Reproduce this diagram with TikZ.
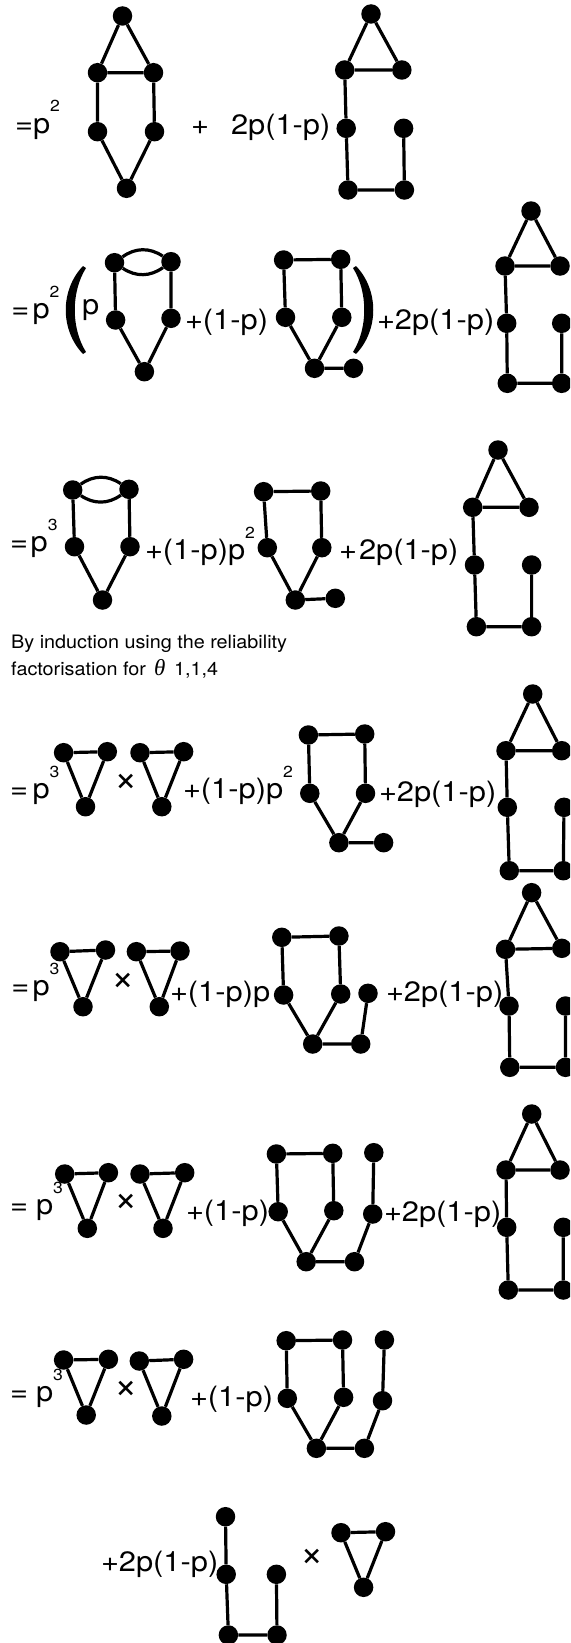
\documentclass[tikz,border=0pt]{standalone}
\usepackage{fontspec}
\setmainfont{TeX Gyre Heros}
\newfontfamily\thetafont{Liberation Serif}
\newcommand\bigtxt[1]{\scalebox{1.1}[1]{\fontsize{28}{28}\selectfont #1}}
\newcommand\supnum[1]{\raisebox{21pt}{\fontsize{16}{16}\selectfont #1}}
\tikzset{
  vtx/.style={circle,fill=black,inner sep=0pt,minimum size=19.5pt},
  edg/.style={line width=3.2pt},
  lbl/.style={anchor=base west,inner sep=0pt,outer sep=0pt},
  timesig/.style={anchor=center,inner sep=0pt,font=\fontsize{40}{40}\selectfont},
  smalltxt/.style={anchor=base west,inner sep=0pt,font=\fontsize{18.5}{18.5}\selectfont}
}
\begin{document}
\begin{tikzpicture}[x=1pt,y=-1pt]
\clip (0,0) rectangle (570,1643);
\fill[white] (0,0) rectangle (570,1643);

% ---------------- Row 1
\node[lbl] (r1eq) at (15,133) {\bigtxt{=}};
\node[lbl] (r1p) at (33,133) {\bigtxt{p\supnum{2}}};
\node[lbl] (r1plus) at (191,135) {\bigtxt{+}};
\node[lbl] (r1c) at (231,135) {\bigtxt{2p(1-p)}};
\node[vtx] (a1) at (122.5,16) {};
\node[vtx] (a2) at (97.5,72.7) {};
\node[vtx] (a3) at (153.5,72.7) {};
\node[vtx] (a4) at (97.5,131.7) {};
\node[vtx] (a5) at (154.5,131.7) {};
\node[vtx] (a6) at (126.5,188.3) {};
\draw[edg] (a1)--(a2) (a1)--(a3) (a2)--(a3) (a2)--(a4) (a3)--(a5) (a4)--(a6) (a5)--(a6);
\node[vtx] (b1) at (371,14) {};
\node[vtx] (b2) at (344.7,70) {};
\node[vtx] (b3) at (401.8,70) {};
\node[vtx] (b4) at (346.2,128.3) {};
\node[vtx] (b5) at (403.6,128.3) {};
\node[vtx] (b6) at (348,190) {};
\node[vtx] (b7) at (404.4,190) {};
\draw[edg] (b1)--(b2) (b1)--(b3) (b2)--(b3) (b2)--(b4) (b4)--(b6) (b6)--(b7) (b7)--(b5);

% ---------------- Row 2
\node[lbl] (r2eq) at (11.5,318) {\bigtxt{=}};
\node[lbl] (r2p) at (32.5,318) {\bigtxt{p\supnum{2}}};
\fill (83,266) .. controls (60,290) and (60,330) .. (83,354) -- (86,352) .. controls (71,328) and (71,292) .. (86,268) -- cycle;
\node[lbl] (r2pp) at (82,314) {\bigtxt{p}};
\node[vtx] (c1) at (114.5,262.7) {};
\node[vtx] (c2) at (171,261.7) {};
\node[vtx] (c3) at (115.6,320) {};
\node[vtx] (c4) at (171,318.3) {};
\node[vtx] (c5) at (144.4,371.7) {};
\draw[edg] (c1) to[bend left=35] (c2);
\draw[edg] (c1) to[bend right=35] (c2);
\draw[edg] (c1)--(c3) (c2)--(c4) (c3)--(c5) (c4)--(c5);
\node[lbl] (r2b) at (185,329) {\bigtxt{+(1-p)}};
\node[vtx] (d1) at (283.6,260) {};
\node[vtx] (d2) at (340.7,259.3) {};
\node[vtx] (d3) at (285.5,317.3) {};
\node[vtx] (d4) at (341.8,317.3) {};
\node[vtx] (d5) at (314.5,368.3) {};
\node[vtx] (d6) at (353.5,368.3) {};
\draw[edg] (d1)--(d2) (d1)--(d3) (d2)--(d4) (d3)--(d5) (d4)--(d5) (d5)--(d6);
\fill (356,266) .. controls (379,290) and (379,330) .. (356,354) -- (353,352) .. controls (368,328) and (368,292) .. (353,268) -- cycle;
\node[lbl] (r2c) at (377,329) {\bigtxt{+2p(1-p)}};
\node[vtx] (e1) at (531,211) {};
\node[vtx] (e2) at (505,266) {};
\node[vtx] (e3) at (560,266) {};
\node[vtx] (e4) at (506.7,323.3) {};
\node[vtx] (e5) at (561.7,323.3) {};
\node[vtx] (e6) at (507.3,383.3) {};
\node[vtx] (e7) at (561.7,383.3) {};
\draw[edg] (e1)--(e2) (e1)--(e3) (e2)--(e3) (e2)--(e4) (e4)--(e6) (e6)--(e7) (e7)--(e5);

% ---------------- Row 3
\node[lbl] (r3eq) at (10,551) {\bigtxt{=}};
\node[lbl] (r3p) at (30.7,551) {\bigtxt{p\supnum{3}}};
\node[vtx] (f1) at (72.7,490) {};
\node[vtx] (f2) at (129,489.3) {};
\node[vtx] (f3) at (74.5,546.7) {};
\node[vtx] (f4) at (130,546.7) {};
\node[vtx] (f5) at (102.5,600) {};
\draw[edg] (f1) to[bend left=35] (f2);
\draw[edg] (f1) to[bend right=35] (f2);
\draw[edg] (f1)--(f3) (f2)--(f4) (f3)--(f5) (f4)--(f5);
\node[lbl] (r3b) at (145,559) {\bigtxt{+(1-p)p\supnum{2}}};
\node[vtx] (g1) at (263.6,491.7) {};
\node[vtx] (g2) at (320.7,491) {};
\node[vtx] (g3) at (267.3,547.7) {};
\node[vtx] (g4) at (321.8,547.7) {};
\node[vtx] (g5) at (295.3,600) {};
\node[vtx] (g6) at (335.3,598.3) {};
\draw[edg] (g1)--(g2) (g1)--(g3) (g2)--(g4) (g3)--(g5) (g4)--(g5) (g5)--(g6);
\node[lbl] (r3plus) at (339,559) {\bigtxt{+}};
\node[lbl] (r3c) at (359,559) {\bigtxt{2p(1-p)}};
\node[vtx] (h1) at (498,450) {};
\node[vtx] (h2) at (472.7,507.3) {};
\node[vtx] (h3) at (529,507.3) {};
\node[vtx] (h4) at (474.5,565) {};
\node[vtx] (h5) at (531.6,565) {};
\node[vtx] (h6) at (476.4,626.7) {};
\node[vtx] (h7) at (531.6,626.7) {};
\draw[edg] (h1)--(h2) (h1)--(h3) (h2)--(h3) (h2)--(h4) (h4)--(h6) (h6)--(h7) (h7)--(h5);

% ---------------- Text
\node[smalltxt] (ind1) at (11,648) {\scalebox{1.07}[1]{By induction using the reliability}};
\node[smalltxt] (ind2) at (11,675) {\scalebox{1.07}[1]{factorisation for}};
\node[smalltxt] (ind3) at (154,675) {\fontsize{23}{23}\selectfont\thetafont\itshape θ};
\node[smalltxt] (ind4) at (174,675) {\scalebox{1.07}[1]{1,1,4}};

% ---------------- Row 4
\node[lbl] (r4eq) at (10,798) {\bigtxt{=}};
\node[lbl] (r4p) at (32.5,798) {\bigtxt{p\supnum{3}}};
\node[vtx] (s1a) at (63.6,752.7) {};
\node[vtx] (s1b) at (107.3,751.7) {};
\node[vtx] (s1c) at (85.5,806.7) {};
\draw[edg] (s1a)--(s1b) (s1a)--(s1c) (s1b)--(s1c);
\node[timesig] (r4x) at (126,783) {×};
\node[vtx] (s2a) at (140,752.7) {};
\node[vtx] (s2b) at (183.6,751.7) {};
\node[vtx] (s2c) at (161.8,806.7) {};
\draw[edg] (s2a)--(s2b) (s2a)--(s2c) (s2b)--(s2c);
\node[lbl] (r4b) at (183,798) {\bigtxt{+(1-p)p\supnum{2}}};
\node[vtx] (i1) at (308.4,735) {};
\node[vtx] (i2) at (364.7,734) {};
\node[vtx] (i3) at (309.8,793.3) {};
\node[vtx] (i4) at (365.5,793.3) {};
\node[vtx] (i5) at (338.9,842.7) {};
\node[vtx] (i6) at (383.6,842.7) {};
\draw[edg] (i1)--(i2) (i1)--(i3) (i2)--(i4) (i3)--(i5) (i4)--(i5) (i5)--(i6);
\node[lbl] (r4c) at (379,801) {\bigtxt{+2p(1-p)}};
\node[vtx] (j1) at (532.7,694) {};
\node[vtx] (j2) at (506,750.7) {};
\node[vtx] (j3) at (561.7,750.7) {};
\node[vtx] (j4) at (507.3,807.3) {};
\node[vtx] (j5) at (564,807.3) {};
\node[vtx] (j6) at (509.3,870.7) {};
\node[vtx] (j7) at (563.3,870.7) {};
\draw[edg] (j1)--(j2) (j1)--(j3) (j2)--(j3) (j2)--(j4) (j4)--(j6) (j6)--(j7) (j7)--(j5);

% ---------------- Row 5
\node[lbl] (r5eq) at (11.5,995) {\bigtxt{=}};
\node[lbl] (r5p) at (32.5,995) {\bigtxt{p\supnum{3}}};
\node[vtx] (s3a) at (60,951.7) {};
\node[vtx] (s3b) at (105.5,950) {};
\node[vtx] (s3c) at (83,1006.7) {};
\draw[edg] (s3a)--(s3b) (s3a)--(s3c) (s3b)--(s3c);
\node[timesig] (r5x) at (122.7,981.7) {×};
\node[vtx] (s4a) at (136.4,951.7) {};
\node[vtx] (s4b) at (180,951) {};
\node[vtx] (s4c) at (159.3,1006.7) {};
\draw[edg] (s4a)--(s4b) (s4a)--(s4c) (s4b)--(s4c);
\node[lbl] (r5b) at (170,1001) {\bigtxt{+(1-p)p}};
\node[vtx] (k1) at (281.8,937.3) {};
\node[vtx] (k2) at (338.9,936) {};
\node[vtx] (k3) at (283.6,995) {};
\node[vtx] (k4) at (340.7,994) {};
\node[vtx] (k5) at (312.7,1044) {};
\node[vtx] (k6) at (360.7,1044) {};
\node[vtx] (k7) at (368,993.3) {};
\draw[edg] (k1)--(k2) (k1)--(k3) (k2)--(k4) (k3)--(k5) (k4)--(k5) (k5)--(k6) (k6)--(k7);
\node[lbl] (r5c) at (386,1001) {\bigtxt{+2p(1-p)}};
\node[vtx] (l1) at (531.6,892.7) {};
\node[vtx] (l2) at (505.5,949.3) {};
\node[vtx] (l3) at (561.8,948.3) {};
\node[vtx] (l4) at (509,1006) {};
\node[vtx] (l5) at (565.5,1006) {};
\node[vtx] (l6) at (509.8,1067.3) {};
\node[vtx] (l7) at (565.5,1067.3) {};
\draw[edg] (l1)--(l2) (l1)--(l3) (l2)--(l3) (l2)--(l4) (l4)--(l6) (l6)--(l7) (l7)--(l5);

% ---------------- Row 6
\node[lbl] (r6eq) at (10,1214) {\bigtxt{=}};
\node[lbl] (r6p) at (36,1214) {\bigtxt{p\supnum{3}}};
\node[vtx] (s5a) at (64.7,1174) {};
\node[vtx] (s5b) at (108.4,1172.7) {};
\node[vtx] (s5c) at (87.3,1228.3) {};
\draw[edg] (s5a)--(s5b) (s5a)--(s5c) (s5b)--(s5c);
\node[timesig] (r6x) at (126.3,1203.3) {×};
\node[vtx] (s6a) at (140,1174) {};
\node[vtx] (s6b) at (184.7,1172.7) {};
\node[vtx] (s6c) at (163,1228.3) {};
\draw[edg] (s6a)--(s6b) (s6a)--(s6c) (s6b)--(s6c);
\node[lbl] (r6b) at (186,1220) {\bigtxt{+(1-p)}};
\node[vtx] (m1) at (276.4,1154) {};
\node[vtx] (m2) at (332.7,1153.3) {};
\node[vtx] (m3) at (278.2,1211.7) {};
\node[vtx] (m4) at (333.8,1210.7) {};
\node[vtx] (m5) at (306.2,1261.7) {};
\node[vtx] (m6) at (354.5,1261.7) {};
\node[vtx] (m7) at (372.7,1214) {};
\node[vtx] (m8) at (373.8,1152.7) {};
\draw[edg] (m1)--(m2) (m1)--(m3) (m2)--(m4) (m3)--(m5) (m4)--(m5) (m5)--(m6) (m6)--(m7) (m7)--(m8);
\node[lbl] (r6c) at (384,1221) {\bigtxt{+2p(1-p)}};
\node[vtx] (n1) at (531.7,1114) {};
\node[vtx] (n2) at (506,1170) {};
\node[vtx] (n3) at (560,1170) {};
\node[vtx] (n4) at (506.7,1227.3) {};
\node[vtx] (n5) at (563.3,1227.3) {};
\node[vtx] (n6) at (508.3,1290) {};
\node[vtx] (n7) at (563.3,1290) {};
\draw[edg] (n1)--(n2) (n1)--(n3) (n2)--(n3) (n2)--(n4) (n4)--(n6) (n6)--(n7) (n7)--(n5);

% ---------------- Row 7
\node[lbl] (r7eq) at (10,1401) {\bigtxt{=}};
\node[lbl] (r7p) at (36,1401) {\bigtxt{p\supnum{3}}};
\node[vtx] (s7a) at (63.6,1360) {};
\node[vtx] (s7b) at (108.4,1359.3) {};
\node[vtx] (s7c) at (86.2,1415) {};
\draw[edg] (s7a)--(s7b) (s7a)--(s7c) (s7b)--(s7c);
\node[timesig] (r7x) at (126.3,1390) {×};
\node[vtx] (s8a) at (139.3,1361) {};
\node[vtx] (s8b) at (183.6,1359.3) {};
\node[vtx] (s8c) at (161.8,1416) {};
\draw[edg] (s8a)--(s8b) (s8a)--(s8c) (s8b)--(s8c);
\node[lbl] (r7b) at (190,1406) {\bigtxt{+(1-p)}};
\node[vtx] (o1) at (286.2,1340.7) {};
\node[vtx] (o2) at (342.5,1340) {};
\node[vtx] (o3) at (287.3,1398.3) {};
\node[vtx] (o4) at (343.6,1397.3) {};
\node[vtx] (o5) at (316.4,1448.3) {};
\node[vtx] (o6) at (364.4,1448.3) {};
\node[vtx] (o7) at (382.5,1400.7) {};
\node[vtx] (o8) at (384.4,1340) {};
\draw[edg] (o1)--(o2) (o1)--(o3) (o2)--(o4) (o3)--(o5) (o4)--(o5) (o5)--(o6) (o6)--(o7) (o7)--(o8);

% ---------------- Row 8
\node[lbl] (r8a) at (101,1571.7) {\bigtxt{+2p(1-p)}};
\node[vtx] (p1) at (225.5,1516.7) {};
\node[vtx] (p2) at (226.2,1574.3) {};
\node[vtx] (p3) at (228.4,1635) {};
\node[vtx] (p4) at (277,1635) {};
\node[vtx] (p5) at (276.4,1574.3) {};
\draw[edg] (p1)--(p2) (p2)--(p3) (p3)--(p4) (p4)--(p5);
\node[timesig] (r8x) at (311.8,1558.3) {×};
\node[vtx] (s9a) at (341,1532.7) {};
\node[vtx] (s9b) at (385.5,1531.7) {};
\node[vtx] (s9c) at (363.6,1587.3) {};
\draw[edg] (s9a)--(s9b) (s9a)--(s9c) (s9b)--(s9c);
\end{tikzpicture}
\end{document}
